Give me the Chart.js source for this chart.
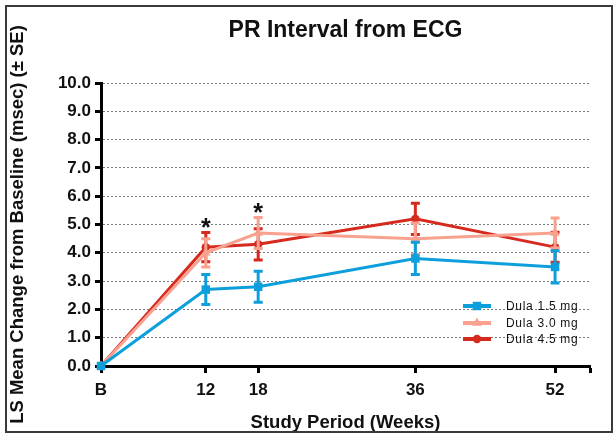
<!DOCTYPE html>
<html>
<head>
<meta charset="utf-8">
<script src="https://cdn.jsdelivr.net/npm/chart.js@4"></script>
<style>
  html, body { margin: 0; padding: 0; background: #fff; }
  #wrap { width: 616px; height: 434px; position: relative; }
</style>
</head>
<body>
<div id="wrap"><canvas id="chartPR" width="616" height="434"></canvas></div>
<script>
// weeks on the x axis (B = baseline = week 0)
const weeks = [0, 12, 18, 36, 52];
const tickWeeks = [0, 12, 18, 36, 52, 56];
const tickLabels = ["B", "12", "18", "36", "52", ""];

const dula15 = [0, 2.7, 2.8, 3.8, 3.5];
const dula15Err = [0, 0.53, 0.55, 0.57, 0.57];
const dula30 = [0, 4.0, 4.7, 4.5, 4.7];
const dula30Err = [0, 0.5, 0.55, 0.55, 0.53];
const dula45 = [0, 4.2, 4.3, 5.2, 4.2];
const dula45Err = [0, 0.52, 0.55, 0.55, 0.53];

const seriesNames = ["Dula 1.5 mg", "Dula 3.0 mg", "Dula 4.5 mg"];
const sigWeeks = [12, 18];

const BLUE = "#0d9fdc";
const SALMON = "#f8a18f";
const RED = "#d62a1f";
const FONT = "'Liberation Sans', Arial, sans-serif";

function punti(valori) {
    return weeks.map((w, i) => ({ x: w, y: valori[i] }));
}

function serie(nome, valori, errori, colore, stile, raggio) {
    return {
        label: nome,
        data: punti(valori),
        errors: errori,
        borderColor: colore,
        backgroundColor: colore,
        borderWidth: 3,
        pointStyle: stile,
        pointRadius: raggio,
        pointHoverRadius: raggio,
        pointBorderWidth: 0,
        tension: 0,
        clip: false
    };
}

// error bars drawn just under each dataset's own line
const errorBars = {
    id: "errorBars",
    beforeDatasetDraw(chart, args) {
        const ds = chart.data.datasets[args.index];
        const xs = chart.scales.x, ys = chart.scales.y;
        const ctx = chart.ctx;
        ctx.save();
        ctx.strokeStyle = ds.borderColor;
        ctx.lineWidth = 3;
        ds.data.forEach((p, i) => {
            const e = ds.errors[i];
            if (!e) return;
            const px = xs.getPixelForValue(p.x);
            const top = ys.getPixelForValue(p.y + e);
            const bot = ys.getPixelForValue(p.y - e);
            ctx.beginPath();
            ctx.moveTo(px, top); ctx.lineTo(px, bot);
            ctx.moveTo(px - 4.5, top); ctx.lineTo(px + 4.5, top);
            ctx.moveTo(px - 4.5, bot); ctx.lineTo(px + 4.5, bot);
            ctx.stroke();
        });
        ctx.restore();
    }
};

// frame, asterisks and legend
const extras = {
    id: "extras",
    afterDraw(chart) {
        const ctx = chart.ctx;
        const xs = chart.scales.x, ys = chart.scales.y;
        ctx.save();

        ctx.strokeStyle = "#3a3a3a";
        ctx.lineWidth = 2;
        ctx.strokeRect(6, 6, 606, 426);

        ctx.fillStyle = "#111";
        ctx.font = "bold 25px " + FONT;
        ctx.textAlign = "center";
        ctx.textBaseline = "alphabetic";
        sigWeeks.forEach(w => {
            let alto = 0;
            const i = weeks.indexOf(w);
            chart.data.datasets.forEach(ds => {
                alto = Math.max(alto, ds.data[i].y + ds.errors[i]);
            });
            const py = ys.getPixelForValue(alto) - 9;
            ctx.fillText("*", xs.getPixelForValue(w), py + 13);
        });

        const righe = [306, 323, 339];
        ctx.font = "12px " + FONT;
        ctx.textAlign = "left";
        ctx.textBaseline = "middle";
        if ("letterSpacing" in ctx) ctx.letterSpacing = "0.7px";
        chart.data.datasets.forEach((ds, i) => {
            const y = righe[i];
            ctx.strokeStyle = ds.borderColor;
            ctx.lineWidth = 4;
            ctx.beginPath();
            ctx.moveTo(463, y); ctx.lineTo(491, y);
            ctx.stroke();
            ctx.fillStyle = ds.backgroundColor;
            Chart.helpers.drawPoint(ctx, {
                pointStyle: ds.pointStyle, radius: ds.pointRadius, borderWidth: 0
            }, 477, y);
            ctx.fillStyle = "#111";
            ctx.fillText(ds.label, 506, y + 1);
        });
        ctx.restore();
    }
};

new Chart(document.getElementById("chartPR"), {
    type: "line",
    data: {
        datasets: [
            serie(seriesNames[0], dula15, dula15Err, BLUE, "rect", 6),
            serie(seriesNames[1], dula30, dula30Err, SALMON, "triangle", 5.5),
            serie(seriesNames[2], dula45, dula45Err, RED, "circle", 4.2)
        ]
    },
    options: {
        responsive: false,
        animation: false,
        events: [],
        layout: { padding: { left: 0, right: 26, top: 0, bottom: 0 } },
        plugins: {
            legend: { display: false },
            tooltip: { enabled: false },
            title: {
                display: true,
                fullSize: false,
                text: "PR Interval from ECG",
                color: "#111",
                font: { family: FONT, size: 23, weight: "bold" },
                padding: { top: 16.7, bottom: 38.7 }
            }
        },
        scales: {
            x: {
                type: "linear",
                min: 0,
                max: 56,
                afterBuildTicks: scale => {
                    scale.ticks = tickWeeks.map(v => ({ value: v }));
                },
                afterFit: scale => { scale.height = 68; },
                ticks: {
                    color: "#111",
                    padding: 7,
                    maxRotation: 0,
                    autoSkip: false,
                    font: { family: FONT, size: 17, weight: "bold" },
                    callback: v => tickLabels[tickWeeks.indexOf(v)]
                },
                grid: {
                    drawOnChartArea: false,
                    tickLength: 7,
                    tickColor: "#000",
                    tickWidth: 3
                },
                border: { color: "#000", width: 3 },
                title: {
                    display: true,
                    text: "Study Period (Weeks)",
                    color: "#111",
                    font: { family: FONT, size: 18.5, weight: "bold" },
                    padding: { top: 0, bottom: 0 }
                }
            },
            y: {
                min: 0,
                max: 10,
                afterFit: scale => { scale.width = 101; },
                ticks: {
                    stepSize: 1,
                    color: "#111",
                    padding: 4,
                    font: { family: FONT, size: 17, weight: "bold" },
                    callback: v => v.toFixed(1)
                },
                grid: {
                    color: ctx => (ctx.tick && ctx.tick.value === 0) ? "rgba(0,0,0,0)" : "#7a7a7a",
                    lineWidth: 1,
                    tickLength: 6,
                    tickColor: "#000",
                    tickWidth: 3
                },
                border: { color: "#000", width: 3, dash: [2, 2] },
                title: {
                    display: true,
                    text: "LS Mean Change from Baseline (msec) (± SE)",
                    color: "#111",
                    font: { family: FONT, size: 18.5, weight: "bold" },
                    padding: { top: 7, bottom: 0 }
                }
            }
        }
    },
    plugins: [errorBars, extras]
});
</script>
</body>
</html>
